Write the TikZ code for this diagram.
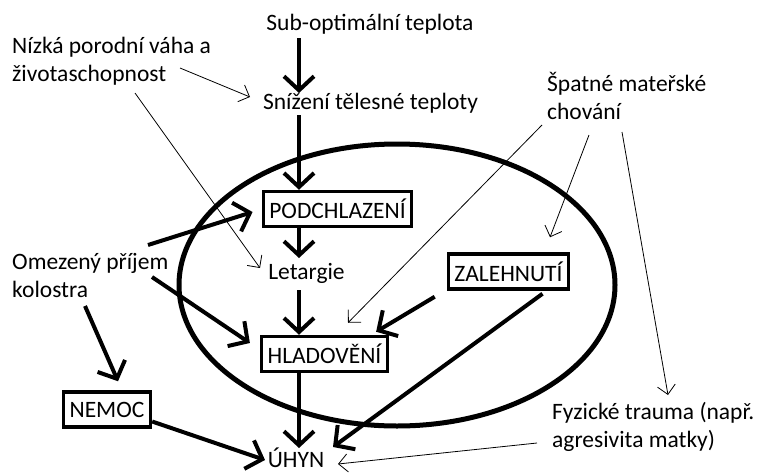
\documentclass[tikz,border=0pt]{standalone}
\usepackage{fontspec}
\setmainfont{Carlito}
\usetikzlibrary{arrows.meta,calc}
\begin{document}
\begin{tikzpicture}[x=1pt,y=-1pt,
  every node/.style={font=\fontsize{23.5}{27.8}\selectfont, inner sep=0pt},
  textnote/.style={align=left, anchor=base west},
  stage/.style={draw, line width=3.5pt, inner xsep=6pt, minimum height=35pt},
  bigarrow/.style={line width=4pt, -{Straight Barb[length=14pt,width=30pt]}},
  smallarrow/.style={line width=0.8pt, -{Straight Barb[length=9pt,width=18pt]}}]
  \useasboundingbox (0,0) rectangle (766,472);
  % nodes (two-line notes sit on the baseline of their last line)
  \node[anchor=base] (sub) at (370,30) {Sub-optimální teplota};
  \node[textnote] (nizka) at (12,81) {Nízká porodní váha a\\životaschopnost};
  \node[anchor=base] (sniz) at (370.5,109) {Snížení tělesné teploty};
  \node[textnote] (spat) at (547,119) {Špatné mateřské\\chování};
  \node[stage] (podch) at (337.5,209) {PODCHLAZENÍ};
  \node[anchor=base] (letarg) at (306.5,279) {Letargie};
  \node[textnote] (omez) at (12,297) {Omezený příjem\\kolostra};
  \node[stage] (zal) at (508.5,271.5) {ZALEHNUTÍ};
  \node[stage] (hlad) at (324.5,354) {HLADOVĚNÍ};
  \node[stage] (nemoc) at (107,409.5) {NEMOC};
  \node[anchor=base] (uhyn) at (296,467) {ÚHYN};
  \node[textnote] (fyz) at (552,447) {Fyzické trauma (např.\\agresivita matky)};
  % the big ellipse
  \draw[line width=5pt] (397,285) ellipse [x radius=218, y radius=141];
  % main chain
  \coordinate (spine) at (299,0);
  \draw[bigarrow] ($(sub.base -| spine)+(0,8)$) -- ($(sniz.base -| spine)+(0,-16)$);
  \draw[bigarrow] ($(sniz.base -| spine)+(0,6)$) -- (podch.north -| spine);
  \draw[bigarrow] (podch.south -| spine) -- ($(letarg.base -| spine)+(0,-21)$);
  \draw[bigarrow] ($(letarg.base -| spine)+(0,11)$) -- (hlad.north -| spine);
  \draw[bigarrow] (hlad.south -| spine) -- ($(uhyn.base -| spine)+(0,-19)$);
  % thick side arrows
  \draw[bigarrow] ($(omez.base west)+(136,-52)$) -- ($(podch.west)+(-9,3)$);
  \draw[bigarrow] ($(omez.base west)+(140,-20)$) -- ($(hlad.west)+(-10,-11)$);
  \draw[bigarrow] ($(omez.base west)+(73,9)$) -- ($(nemoc.north)+(11,-9)$);
  \draw[bigarrow] ($(nemoc.east)+(0,12)$) -- ($(uhyn.base)+(-31,-7)$);
  \draw[bigarrow] ($(zal.south)+(34,3)$) -- ($(uhyn.base)+(37,-20)$);
  \draw[bigarrow] ($(zal.south west)+(-12,6)$) -- ($(hlad.north east)+(-13,-3)$);
  % thin arrows
  \draw[smallarrow] ($(nizka.base west)+(168,-13)$) -- ($(sniz.base)+(-120.5,-12)$);
  \draw[smallarrow] ($(nizka.base west)+(123,12)$) -- ($(letarg.base)+(-46.5,-11)$);
  \draw[smallarrow] ($(spat.base west)+(-5,6)$) -- ($(hlad.north)+(23.5,-12)$);
  \draw[smallarrow] ($(spat.base west)+(42,16)$) -- ($(zal.north)+(41.5,-15)$);
  \draw[smallarrow] ($(spat.base west)+(75,13)$) -- ($(fyz.base west)+(116,-52)$);
  \draw[smallarrow] ($(fyz.base west)+(-15,-4)$) -- ($(uhyn.base)+(42,-3)$);
\end{tikzpicture}
\end{document}
